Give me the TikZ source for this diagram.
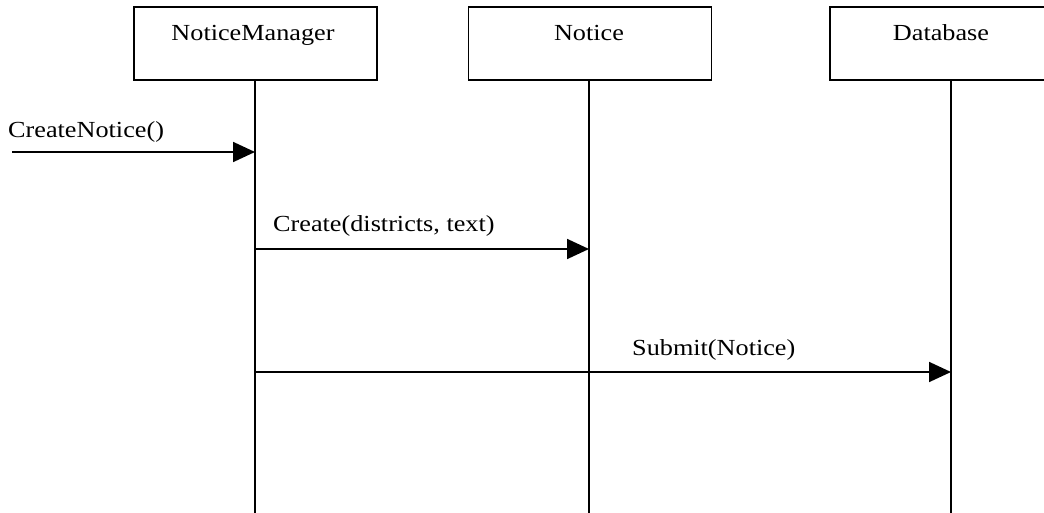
\documentclass[tikz,border=0pt]{standalone}
\usepackage{graphicx}
\usepackage{fontspec}
\setmainfont{Liberation Serif}
\usetikzlibrary{arrows.meta}
% slightly widened lettering
\newcommand{\widetxt}[1]{\scalebox{1.14}[1]{#1}}
\begin{document}
\begin{tikzpicture}[x=1pt,y=-1pt,
  objbox/.style={draw,line width=1.8pt,minimum width=243pt,minimum height=73pt,inner sep=0pt},
  lbl/.style={font=\fontsize{23}{27}\selectfont,inner sep=0pt,anchor=base},
  msglbl/.style={lbl,anchor=base west},
  lifeline/.style={line width=1.8pt},
  msg/.style={line width=1.8pt,-{Triangle[length=22pt,width=20pt]}}]
\clip (0,0) rectangle (1044,513);

% object boxes with their names
\node[objbox] (nm) at (255.5,43.5) {};
\node[lbl] (nmt) at (253,41) {\widetxt{NoticeManager}};
\node[objbox] (nt) at (590,43.5) {};
\node[lbl] (ntt) at (589,41) {\widetxt{Notice}};
\node[objbox,minimum width=222pt] (db) at (941,43.5) {};
\node[lbl] (dbt) at (941,41) {\widetxt{Database}};

% lifelines
\coordinate (nmtop) at (255,80);  \coordinate (nmend) at (255,513);
\coordinate (nttop) at (589,80);  \coordinate (ntend) at (589,513);
\coordinate (dbtop) at (951,80);  \coordinate (dbend) at (951,513);
\draw[lifeline] (nmtop) -- (nmend);
\draw[lifeline] (nttop) -- (ntend);
\draw[lifeline] (dbtop) -- (dbend);

% messages
\coordinate (caller) at (12,152);
\coordinate (nm1) at (255,152);
\draw[msg] (caller) -- (nm1);
\node[msglbl] (m1) at (8,138) {\widetxt{CreateNotice()}};

\coordinate (nm2) at (255,249);
\coordinate (nt2) at (589,249);
\draw[msg] (nm2) -- (nt2);
\node[msglbl] (m2) at (273,232) {\widetxt{Create(districts, text)}};

\coordinate (nm3) at (255,372);
\coordinate (db3) at (951,372);
\draw[msg] (nm3) -- (db3);
\node[msglbl] (m3) at (632,355) {\widetxt{Submit(Notice)}};
\end{tikzpicture}
\end{document}
